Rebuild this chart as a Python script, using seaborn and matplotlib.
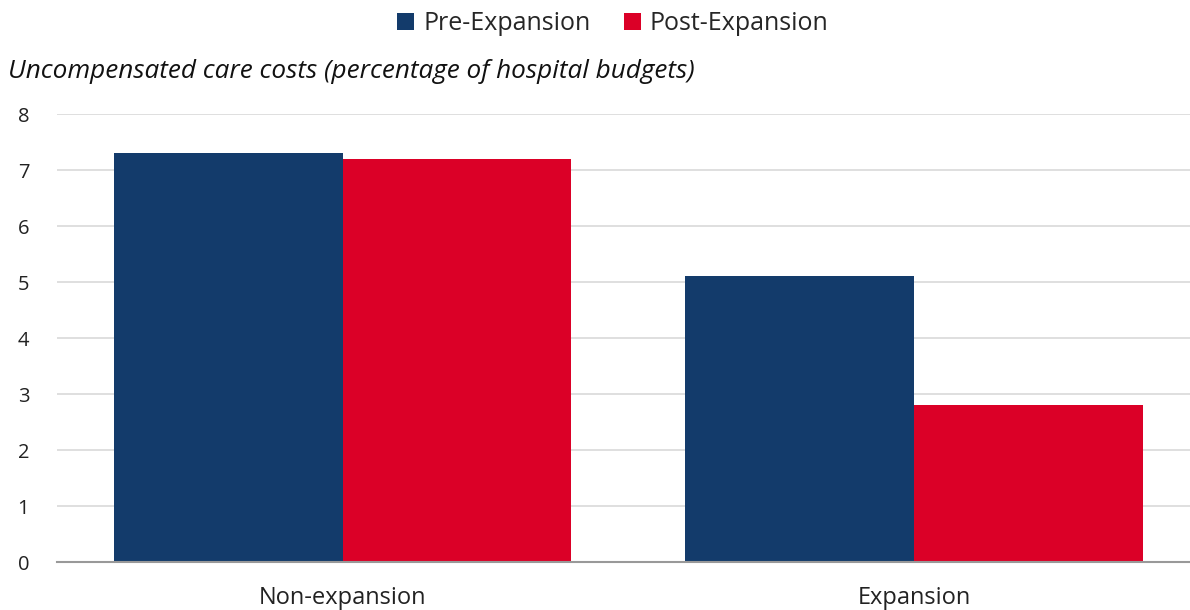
import numpy as np
import pandas as pd
import seaborn as sns
import matplotlib.pyplot as plt
from matplotlib.patches import Patch

categories = ["Non-expansion", "Expansion"]
series = ["Pre-Expansion", "Post-Expansion"]
pre_values = [7.3, 5.1]
post_values = [7.2, 2.8]
colors = ["#133B6B", "#DB0027"]
y_ticks = [0, 1, 2, 3, 4, 5, 6, 7, 8]

df = pd.DataFrame({
    "group": categories * 2,
    "period": [series[0]] * 2 + [series[1]] * 2,
    "value": pre_values + post_values,
})

sns.set_theme(style="white")
plt.rcParams["font.family"] = ["Open Sans", "DejaVu Sans"]

fig = plt.figure(figsize=(11.9, 6.1), dpi=100)
ax = fig.add_axes([57 / 1190, 48 / 610, 1 - 57 / 1190, 448 / 610])

sns.barplot(data=df, x="group", y="value", hue="period", order=categories,
            hue_order=series, palette=colors, width=0.8, saturation=1,
            linewidth=0, ax=ax, legend=False)

ax.set_xlim(-0.5, 1.483)
ax.set_ylim(0, 8)
ax.set_yticks(y_ticks)
ax.yaxis.grid(True, color="#d9d9d9", linewidth=1.2)
ax.set_axisbelow(True)
for s in ["top", "right", "left"]:
    ax.spines[s].set_visible(False)
ax.spines["bottom"].set_color("#999999")
ax.spines["bottom"].set_linewidth(1.5)
ax.tick_params(axis="x", length=0, pad=17, labelsize=17, labelcolor="#222222")
ax.tick_params(axis="y", length=0, pad=20, labelsize=14.5, labelcolor="#222222")
ax.set_xlabel("")
ax.set_ylabel("")

fig.text(8 / 1190, 1 - 78 / 610, "Uncompensated care costs (percentage of hospital budgets)",
         fontsize=18.8, style="italic", color="#111111", va="baseline", ha="left")

handles = [Patch(facecolor=c, edgecolor="none") for c in colors]
fig.legend(handles, series, loc="center", bbox_to_anchor=(613 / 1190, 1 - 24 / 610),
           ncol=2, frameon=False, fontsize=18, handlelength=0.68, handleheight=0.68,
           handletextpad=0.35, columnspacing=1.35, borderpad=0)

plt.savefig("out.png", dpi=100)
